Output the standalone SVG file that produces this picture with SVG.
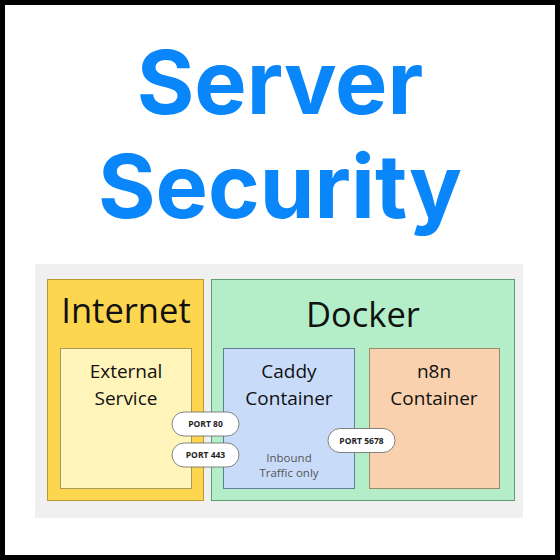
<svg xmlns="http://www.w3.org/2000/svg" width="560" height="560" viewBox="0 0 560 560">
<style>
.box{stroke-width:1}
.big{font-family:"Open Sans","Noto Sans",sans-serif;font-size:34.5px;fill:#111;text-anchor:middle}
.mid{font-family:"Open Sans","Noto Sans",sans-serif;font-size:19px;fill:#111;text-anchor:middle}
.small{font-family:"Open Sans","Noto Sans",sans-serif;font-size:11.5px;fill:#555;text-anchor:middle}
.pill{fill:#fff;stroke:#666;stroke-width:0.8}
.pt{font-family:"Open Sans","Noto Sans",sans-serif;font-size:8.5px;font-weight:700;fill:#222;text-anchor:middle}
.title{font-family:Inter,"Liberation Sans",sans-serif;font-size:88px;font-weight:700;fill:#0a86fb;text-anchor:middle}
</style>
<rect x="0" y="0" width="560" height="560" fill="#000"/>
<rect x="5" y="5" width="550" height="550" fill="#fff"/>
<text class="title" x="280" y="114">Server</text>
<text class="title" x="280" y="218">Security</text>
<rect x="35" y="264" width="488" height="254" fill="#f0f0f0"/>
<g id="internet">
<rect class="box" x="47.5" y="279.5" width="156" height="221" fill="#fdd64f" stroke="#b89a35"/>
<text class="big" x="126" y="323">Internet</text>
</g>
<g id="external-service">
<rect class="box" x="60.5" y="348.5" width="131" height="140" fill="#fff4b9" stroke="#a89a55"/>
<text class="mid" x="126" y="378">External</text>
<text class="mid" x="126" y="405">Service</text>
</g>
<g id="docker">
<rect class="box" x="211.5" y="279.5" width="303" height="221" fill="#b3eec9" stroke="#5f9d77"/>
<text class="big" x="363" y="327">Docker</text>
</g>
<g id="caddy">
<rect class="box" x="223.5" y="348.5" width="131" height="140" fill="#c8dcfa" stroke="#5f7f96"/>
<text class="mid" x="289" y="378">Caddy</text>
<text class="mid" x="289" y="405">Container</text>
<text class="small" x="289" y="461.5">Inbound</text>
<text class="small" x="289" y="477">Traffic only</text>
</g>
<g id="n8n">
<rect class="box" x="369.5" y="348.5" width="130" height="140" fill="#f9d1ae" stroke="#9a8a6e"/>
<text class="mid" x="434" y="378">n8n</text>
<text class="mid" x="434" y="405">Container</text>
</g>
<g id="connectors">
<g id="port80">
<rect class="pill" x="172" y="412" width="67" height="24" rx="12"/>
<text class="pt" x="205.5" y="427">PORT 80</text>
</g>
<g id="port443">
<rect class="pill" x="172" y="443" width="67" height="24" rx="12"/>
<text class="pt" x="205.5" y="458">PORT 443</text>
</g>
<g id="port5678">
<rect class="pill" x="328" y="428.5" width="67" height="24" rx="12"/>
<text class="pt" x="361.5" y="443.5">PORT 5678</text>
</g>
</g>
</svg>
